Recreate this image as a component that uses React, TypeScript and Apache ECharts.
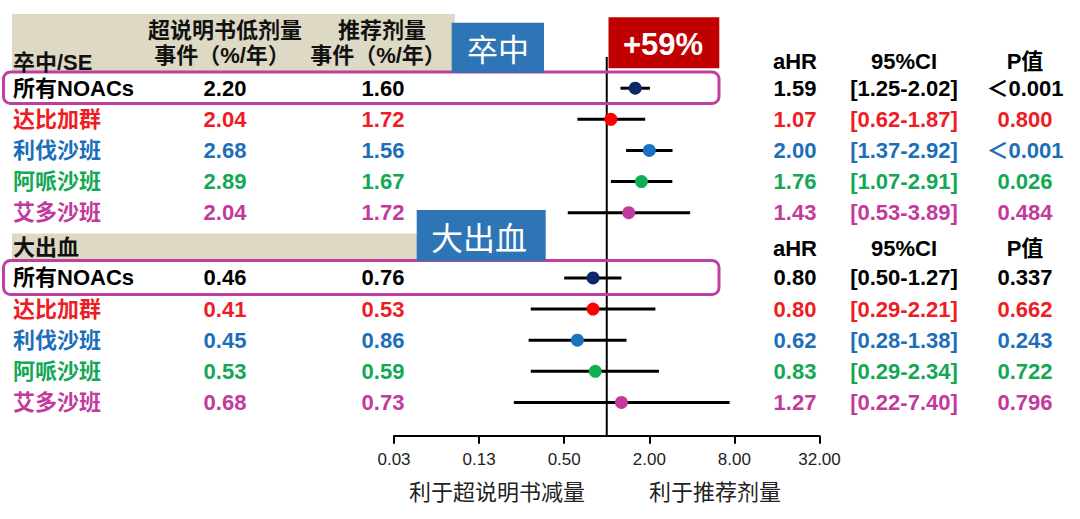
import React, { useEffect, useRef } from "react";
import * as echarts from "echarts";

// ---- data ----
const drugNames = ["所有NOACs", "达比加群", "利伐沙班", "阿哌沙班", "艾多沙班"];
const rowTextColors = ["#000000", "#EE1C25", "#1B6FBA", "#12A854", "#C23A9C"];
const rowDotColors = ["#0E2766", "#FF0000", "#1B72C0", "#0FB055", "#C23A9C"];

const strokeLowDose = [2.2, 2.04, 2.68, 2.89, 2.04];
const strokeRecDose = [1.6, 1.72, 1.56, 1.67, 1.72];
const strokeHR = [1.59, 1.07, 2.0, 1.76, 1.43];
const strokeCILow = [1.25, 0.62, 1.37, 1.07, 0.53];
const strokeCIHigh = [2.02, 1.87, 2.92, 2.91, 3.89];
const strokeP = ["＜0.001", "0.800", "＜0.001", "0.026", "0.484"];

const bleedLowDose = [0.46, 0.41, 0.45, 0.53, 0.68];
const bleedRecDose = [0.76, 0.53, 0.86, 0.59, 0.73];
const bleedHR = [0.8, 0.8, 0.62, 0.83, 1.27];
const bleedCILow = [0.5, 0.29, 0.28, 0.29, 0.22];
const bleedCIHigh = [1.27, 2.21, 1.38, 2.34, 7.4];
const bleedP = ["0.337", "0.662", "0.243", "0.722", "0.796"];

const tickValues = [0.03125, 0.125, 0.5, 2, 8, 32];
const tickLabels = ["0.03", "0.13", "0.50", "2.00", "8.00", "32.00"];

// ---- layout ----
const W = 1080;
const H = 519;
const GRID_LEFT = 394;
const GRID_RIGHT = 819.5;
const GRID_TOP = 57.1;
const AXIS_Y = 435.7;
const Y_MAX = 12.17;
const SLOT_PX = (AXIS_Y - GRID_TOP) / Y_MAX;
const STROKE_START = 1;
const BLEED_START = 7.1;

const FONT = "'Liberation Sans', Arial, 'Noto Sans CJK SC', sans-serif";
const CJK = "'Noto Sans CJK SC', 'Liberation Sans', sans-serif";

const log4 = (v: number) => Math.log(v) / Math.log(4);
const tx = (v: number) => log4(v) - log4(tickValues[0]);
const rowY = (slot: number) => GRID_TOP + slot * SLOT_PX;

function txt(
  text: string,
  x: number,
  y: number,
  opts: { color?: string; size?: number; weight?: string; align?: string; family?: string } = {}
) {
  const align = opts.align || "center";
  return {
    type: "text",
    x,
    y,
    z: 20,
    silent: true,
    style: {
      text,
      fill: opts.color || "#000",
      fontSize: opts.size || 22,
      fontWeight: opts.weight || "bold",
      fontFamily: opts.family || FONT,
      align,
      textAlign: align,
      verticalAlign: "middle",
      textVerticalAlign: "middle",
    },
  };
}

export default function App() {
  const ref = useRef<HTMLDivElement>(null);

  useEffect(() => {
    if (!ref.current) return;
    const chart = echarts.init(ref.current, undefined, { renderer: "svg" });

    const groups = [
      { start: STROKE_START, low: strokeLowDose, rec: strokeRecDose, hr: strokeHR, lo: strokeCILow, hi: strokeCIHigh, p: strokeP },
      { start: BLEED_START, low: bleedLowDose, rec: bleedRecDose, hr: bleedHR, lo: bleedCILow, hi: bleedCIHigh, p: bleedP },
    ];

    const ciData: any[] = [];
    const dotData: any[] = [];
    const graphics: any[] = [];

    // background decorations
    graphics.push(
      { type: "rect", z: 1, silent: true, shape: { x: 12, y: 14, width: 443, height: 58 }, style: { fill: "#DDD9C4" } },
      { type: "rect", z: 1, silent: true, shape: { x: 12, y: 233.5, width: 443, height: 28 }, style: { fill: "#DDD9C4" } },
      { type: "rect", z: 5, silent: true, shape: { x: 3.5, y: 72, width: 715.5, height: 31.5, r: 7 }, style: { fill: "none", stroke: "#BE3F9F", lineWidth: 3 } },
      { type: "rect", z: 5, silent: true, shape: { x: 3.5, y: 260.5, width: 715.5, height: 34, r: 7 }, style: { fill: "none", stroke: "#BE3F9F", lineWidth: 3 } },
      { type: "rect", z: 6, silent: true, shape: { x: 451.7, y: 22.7, width: 92.3, height: 50 }, style: { fill: "#2E75B6" } },
      { type: "rect", z: 6, silent: true, shape: { x: 416.7, y: 210, width: 129, height: 51 }, style: { fill: "#2E75B6" } },
      { type: "rect", z: 6, silent: true, shape: { x: 608.5, y: 17.3, width: 110.8, height: 51 }, style: { fill: "#C00000" } }
    );

    graphics.push(
      txt("卒中", 498, 47, { color: "#fff", size: 31, weight: "normal", family: CJK }),
      txt("大出血", 479, 236, { color: "#fff", size: 32, weight: "normal", family: CJK }),
      txt("+59%", 663, 44, { color: "#fff", size: 31, weight: "bold" })
    );

    // headers
    graphics.push(
      txt("卒中/SE", 13, 62, { align: "left", color: "#111" }),
      txt("超说明书低剂量", 225, 30, { color: "#111" }),
      txt("事件（%/年）", 222, 55, { color: "#111" }),
      txt("推荐剂量", 382, 30, { color: "#111" }),
      txt("事件（%/年）", 378, 55, { color: "#111" }),
      txt("大出血", 13, 247, { align: "left", color: "#111" })
    );
    const headerYs = [61.7, 248.5];
    headerYs.forEach((hy) => {
      graphics.push(txt("aHR", 795, hy), txt("95%CI", 904, hy), txt("P值", 1025, hy));
    });

    groups.forEach((g) => {
      drugNames.forEach((name, i) => {
        const slot = g.start + i;
        const y = rowY(slot);
        const c = rowTextColors[i];
        graphics.push(
          txt(name, 13, y, { align: "left", color: c }),
          txt(g.low[i].toFixed(2), 225, y, { color: c }),
          txt(g.rec[i].toFixed(2), 383, y, { color: c }),
          txt(g.hr[i].toFixed(2), 795, y, { color: c }),
          txt("[" + g.lo[i].toFixed(2) + "-" + g.hi[i].toFixed(2) + "]", 904, y, { color: c }),
          txt(g.p[i], 1025, y, { color: c })
        );
        ciData.push([tx(g.lo[i]), tx(g.hi[i]), slot]);
        dotData.push({ value: [tx(g.hr[i]), slot], itemStyle: { color: rowDotColors[i], opacity: 1 } });
      });
    });

    // axis titles
    graphics.push(
      txt("利于超说明书减量", 497, 490, { weight: "normal", color: "#222", family: CJK }),
      txt("利于推荐剂量", 715, 490, { weight: "normal", color: "#222", family: CJK })
    );

    chart.setOption({
      animation: false,
      grid: { left: GRID_LEFT, right: W - GRID_RIGHT, top: GRID_TOP, bottom: H - AXIS_Y, containLabel: false },
      xAxis: {
        type: "value",
        position: "bottom",
        min: 0,
        max: tickValues.length - 1,
        interval: 1,
        splitLine: { show: false },
        axisLine: { show: true, onZero: false, lineStyle: { color: "#000", width: 2 } },
        axisTick: { show: true, length: 8, lineStyle: { color: "#000", width: 2 } },
        axisLabel: {
          margin: 15,
          fontSize: 17,
          color: "#222",
          fontFamily: FONT,
          formatter: (v: number) => tickLabels[Math.round(v)] ?? "",
        },
      },
      yAxis: { type: "value", inverse: true, min: 0, max: Y_MAX, show: false },
      series: [
        {
          type: "line",
          z: 1,
          symbol: "none",
          silent: true,
          data: [
            [tx(1), 0],
            [tx(1), Y_MAX],
          ],
          lineStyle: { color: "#000", width: 2 },
        },
        {
          type: "custom",
          z: 2,
          silent: true,
          encode: { x: [0, 1], y: 2 },
          data: ciData,
          renderItem: (params: any, api: any) => {
            const y = api.value(2);
            const p1 = api.coord([api.value(0), y]);
            const p2 = api.coord([api.value(1), y]);
            return {
              type: "line",
              shape: { x1: p1[0], y1: p1[1], x2: p2[0], y2: p2[1] },
              style: { stroke: "#000", lineWidth: 3 },
            };
          },
        },
        {
          type: "scatter",
          z: 3,
          symbol: "circle",
          symbolSize: 13,
          silent: true,
          itemStyle: { opacity: 1 },
          data: dotData,
        },
      ],
      graphic: graphics,
    });

    return () => chart.dispose();
  }, []);

  return (
    <div
      ref={ref}
      style={{ position: "fixed", left: 0, top: 0, width: W, height: H, background: "#fff" }}
    />
  );
}
